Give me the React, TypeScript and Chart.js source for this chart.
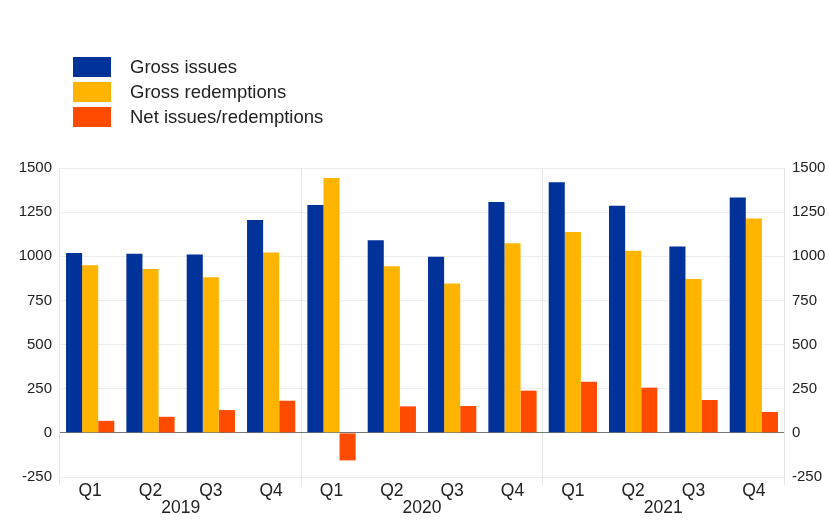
import React, { useEffect, useRef } from "react";
import { Chart, registerables } from "chart.js";

Chart.register(...registerables);

const quarters = ["Q1", "Q2", "Q3", "Q4", "Q1", "Q2", "Q3", "Q4", "Q1", "Q2", "Q3", "Q4"];
const years = ["2019", "2020", "2021"];
const grossIssues = [1019, 1015, 1010, 1205, 1290, 1091, 997, 1308, 1420, 1286, 1056, 1333];
const grossRedemptions = [949, 928, 881, 1021, 1444, 944, 846, 1074, 1137, 1031, 872, 1214];
const netIssues = [68, 91, 129, 182, -156, 150, 152, 239, 290, 256, 186, 118];
const seriesNames = ["Gross issues", "Gross redemptions", "Net issues/redemptions"];
const seriesColors = ["#003299", "#FFB400", "#FF4B00"];
const yMin = -250;
const yMax = 1500;
const yStep = 250;

const FONT = 'Arial, "Liberation Sans", Helvetica, sans-serif';
const TEXT = "#222222";

const yearPlugin = {
  id: "yearLabels",
  afterDraw(chart: any) {
    const x = chart.scales.x;
    const ctx = chart.ctx;
    ctx.save();
    ctx.font = `17.5px ${FONT}`;
    ctx.fillStyle = TEXT;
    ctx.textAlign = "center";
    ctx.textBaseline = "middle";
    years.forEach((yr, i) => {
      const px = (x.getPixelForValue(i * 4 + 1) + x.getPixelForValue(i * 4 + 2)) / 2;
      ctx.fillText(yr, px, 508);
    });
    ctx.restore();
  },
};

const fmt = (v: any) => String(v);

export default function App() {
  const ref = useRef<HTMLCanvasElement | null>(null);

  useEffect(() => {
    if (!ref.current) return;
    const chart = new Chart(ref.current, {
      type: "bar",
      data: {
        labels: quarters,
        datasets: [
          { label: seriesNames[0], data: grossIssues, backgroundColor: seriesColors[0], yAxisID: "y" },
          { label: seriesNames[1], data: grossRedemptions, backgroundColor: seriesColors[1], yAxisID: "y" },
          { label: seriesNames[2], data: netIssues, backgroundColor: seriesColors[2], yAxisID: "y" },
        ],
      },
      options: {
        animation: false,
        responsive: true,
        maintainAspectRatio: false,
        datasets: { bar: { categoryPercentage: 0.8, barPercentage: 1 } },
        layout: { padding: { top: 168, bottom: 20, left: 0, right: 0 } },
        plugins: { legend: { display: false }, tooltip: { enabled: false } },
        scales: {
          x: {
            offset: true,
            border: { display: false },
            afterFit: (s: any) => { s.height = 23; },
            grid: {
              offset: true,
              tickLength: 8,
              color: (c: any) =>
                c.index === undefined || c.index % 4 === 0 ? "#e6e6e6" : "rgba(0,0,0,0)",
            },
            ticks: { color: TEXT, font: { family: FONT, size: 17.5 }, padding: -4, maxRotation: 0 },
          },
          y: {
            position: "left",
            min: yMin,
            max: yMax,
            border: { display: false },
            afterFit: (s: any) => { s.width = 60; },
            grid: {
              drawTicks: false,
              color: (c: any) => (c.tick && c.tick.value === 0 ? "#777777" : "#ececec"),
            },
            ticks: { stepSize: yStep, color: TEXT, font: { family: FONT, size: 15 }, padding: 8, callback: fmt },
          },
          y2: {
            position: "right",
            min: yMin,
            max: yMax,
            border: { display: false },
            afterFit: (s: any) => { s.width = 45; },
            grid: { display: false, drawTicks: false },
            ticks: { stepSize: yStep, color: TEXT, font: { family: FONT, size: 15 }, padding: 8, callback: fmt },
          },
        },
      },
      plugins: [yearPlugin],
    });
    return () => chart.destroy();
  }, []);

  return (
    <div style={{ position: "fixed", left: 0, top: 0, width: 829, height: 520, background: "#fff" }}>
      <canvas ref={ref} />
      <div style={{ position: "absolute", left: 73, top: 54, fontFamily: FONT, fontSize: 18.5, color: TEXT }}>
        {seriesNames.map((n, i) => (
          <div key={n} style={{ display: "flex", alignItems: "center", height: 25 }}>
            <span style={{ display: "inline-block", width: 38, height: 20, background: seriesColors[i], marginRight: 19 }} />
            <span>{n}</span>
          </div>
        ))}
      </div>
    </div>
  );
}
